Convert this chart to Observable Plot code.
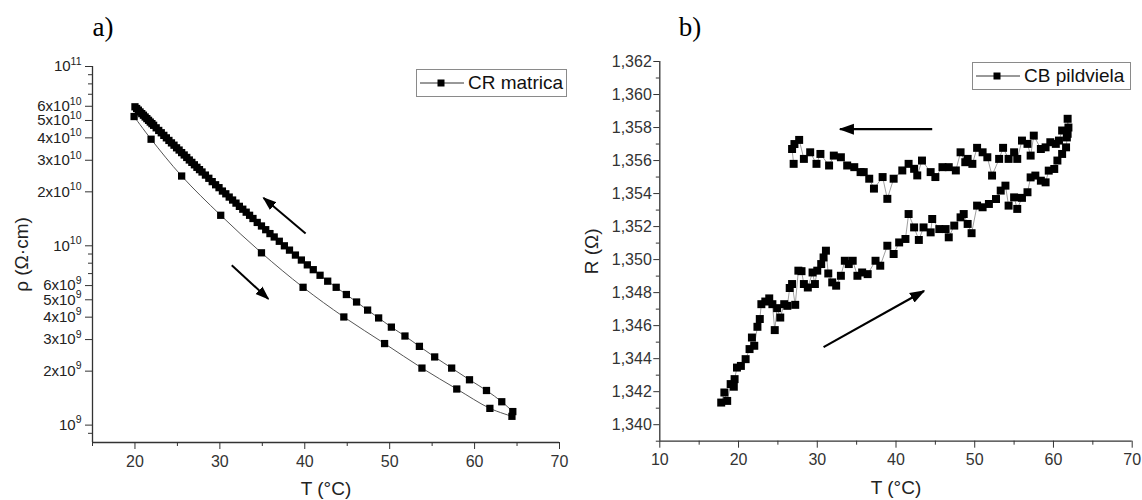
<!DOCTYPE html>
<html><head><meta charset="utf-8">
<script src="https://cdn.jsdelivr.net/npm/d3@7"></script>
<script src="https://cdn.jsdelivr.net/npm/@observablehq/plot@0.6"></script>
<style>
body{margin:0;background:#fff;}
#wrap{position:relative;width:1142px;height:500px;font-family:"Liberation Sans",Arial,sans-serif;background:#fff;overflow:hidden;}
.panel{position:absolute;top:0;}
.legend{position:absolute;box-sizing:border-box;border:1px solid #8a8a8a;display:flex;align-items:center;font-size:19px;color:#111;background:#fff;}
.legend svg{flex:none;}
</style></head><body><div id="wrap"></div>
<script>
// ---------- Panel a) : CR matrica, resistivity vs temperature ----------
const coolT = [20.0,20.2,20.4,20.6,20.8,21.0,21.2,21.4,21.6,21.8,22.0,22.2,22.5,22.8,23.1,23.4,23.7,24.0,24.3,24.6,24.9,25.2,25.5,25.8,26.1,26.4,26.7,27.0,27.3,27.6,27.9,28.3,28.7,29.1,29.5,29.9,30.3,30.7,31.1,31.5,31.9,32.3,32.7,33.1,33.5,33.9,34.4,34.9,35.4,35.9,36.4,37.0,37.6,38.2,38.9,39.6,40.3,41.0,41.8,42.7,43.7,44.9,46.1,47.4,48.7,50.2,51.8,53.5,55.3,57.3,59.4,61.4,63.2,64.5];
const coolRho = [5.96e10,5.83e10,5.71e10,5.58e10,5.46e10,5.35e10,5.23e10,5.12e10,5.01e10,4.90e10,4.80e10,4.70e10,4.55e10,4.40e10,4.27e10,4.13e10,4.00e10,3.87e10,3.75e10,3.64e10,3.52e10,3.42e10,3.31e10,3.21e10,3.11e10,3.01e10,2.92e10,2.83e10,2.74e10,2.66e10,2.58e10,2.48e10,2.38e10,2.28e10,2.19e10,2.11e10,2.02e10,1.95e10,1.87e10,1.80e10,1.73e10,1.66e10,1.60e10,1.54e10,1.48e10,1.42e10,1.35e10,1.29e10,1.23e10,1.17e10,1.12e10,1.06e10,1.00e10,9.46e9,8.88e9,8.33e9,7.83e9,7.36e9,6.85e9,6.35e9,5.87e9,5.35e9,4.86e9,4.38e9,3.96e9,3.52e9,3.14e9,2.75e9,2.40e9,2.08e9,1.79e9,1.56e9,1.35e9,1.19e9];
const heatT = [19.9,21.9,25.5,30.1,34.9,39.8,44.6,49.4,53.8,57.9,61.8,64.4];
const heatRho = [5.26e10,3.93e10,2.45e10,1.48e10,9.14e9,5.87e9,4.01e9,2.85e9,2.08e9,1.59e9,1.24e9,1.12e9];
const arrowsA = [
  {x1:40.1, y1:1.17e10, x2:35.15, y2:1.85e10},
  {x1:31.4, y1:7.8e9,  x2:35.7,  y2:5.06e9}
];
const xDomainA = [15, 70];
const yDomainA = [8e8, 1e11];
const xMajorA = [20, 30, 40, 50, 60, 70];
const xMinorA = [15, 25, 35, 45, 55, 65];
const yMajorA = [1e9, 2e9, 3e9, 4e9, 5e9, 6e9, 1e10, 2e10, 3e10, 4e10, 5e10, 6e10, 1e11];
const yMinorA = [9e8, 7e9, 8e9, 9e9, 7e10, 8e10, 9e10];
const titleA = "a)";
const xLabelA = "T (°C)";
const yLabelA = "ρ (Ω·cm)";
const legendA = "CR matrica";

// ---------- Panel b) : CB pildviela, resistance vs temperature ----------
const heatT2 = [17.8,18.2,18.56,19.0,19.4,19.5,19.8,20.3,20.9,21.4,21.7,22.0,22.4,22.7,22.9,23.4,23.9,24.3,24.6,24.9,25.3,25.8,26.2,26.5,26.8,27.2,27.6,28.0,28.3,28.8,29.4,29.7,30.0,30.5,30.8,31.1,31.4,31.9,32.4,33.0,33.5,34.0,34.5,35.1,35.7,36.4,37.4,38.0,38.9,39.7,40.4,41.2,41.6,42.3,42.9,43.5,44.4,44.6,45.5,46.3,46.7,47.4,48.2,48.6,49.1,49.6,50.3,51.0,51.8,52.7,53.3,53.9,54.3,55.0,55.4,56.0,56.7,57.1,57.7,58.4,59.0,59.4,60.1,60.5,61.1,61.6,61.8,61.8];
const heatR2 = [1.34134,1.34195,1.34144,1.34246,1.34230,1.34276,1.34346,1.34356,1.34397,1.34458,1.34528,1.34478,1.34593,1.34640,1.34730,1.34746,1.34765,1.34730,1.34573,1.34706,1.34649,1.34730,1.34720,1.34828,1.34852,1.34726,1.34933,1.34930,1.34852,1.34831,1.34922,1.34852,1.34933,1.34973,1.35013,1.35054,1.34916,1.34862,1.34842,1.34902,1.34993,1.34973,1.34993,1.34902,1.34922,1.34912,1.34993,1.34963,1.35084,1.35034,1.35104,1.35125,1.35276,1.35195,1.35119,1.35195,1.35165,1.35246,1.35185,1.35185,1.35135,1.35206,1.35256,1.35276,1.35216,1.35160,1.35327,1.35317,1.35337,1.35367,1.35418,1.35448,1.35327,1.35377,1.35307,1.35374,1.35408,1.35498,1.35509,1.35478,1.35468,1.35539,1.35549,1.35600,1.35640,1.35680,1.35762,1.35853];
const coolT2 = [61.9,61.7,61.1,60.7,60.3,59.6,59.0,58.4,57.5,57.1,56.7,56.0,55.4,55.0,54.3,53.6,53.1,52.2,51.6,51.0,50.3,49.7,49.1,48.8,48.2,47.6,46.7,45.9,45.0,44.4,43.3,42.7,42.3,41.6,40.8,39.7,38.9,38.3,37.2,36.6,35.9,35.5,34.7,33.8,33.0,32.1,31.5,30.4,29.9,29.1,28.3,27.7,27.1,26.8,27.0];
const coolR2 = [1.35800,1.35740,1.35782,1.35721,1.35701,1.35711,1.35680,1.35670,1.35751,1.35630,1.35701,1.35721,1.35610,1.35650,1.35610,1.35677,1.35610,1.35509,1.35620,1.35650,1.35677,1.35580,1.35610,1.35590,1.35650,1.35540,1.35560,1.35560,1.35500,1.35530,1.35600,1.35510,1.35550,1.35580,1.35540,1.35490,1.35368,1.35500,1.35430,1.35490,1.35530,1.35530,1.35560,1.35570,1.35620,1.35630,1.35570,1.35640,1.35580,1.35650,1.35610,1.35725,1.35700,1.35670,1.35580];
const arrowsB = [
  {x1:44.6, y1:1.3579, x2:32.9,  y2:1.3579},
  {x1:30.8, y1:1.3447, x2:43.55, y2:1.3481}
];
const xDomainB = [10, 70];
const yDomainB = [1.339, 1.362];
const xMajorB = [10, 20, 30, 40, 50, 60, 70];
const xMinorB = [15, 25, 35, 45, 55, 65];
const yMajorB = [1.340,1.342,1.344,1.346,1.348,1.350,1.352,1.354,1.356,1.358,1.360,1.362];
const yMinorB = [1.339,1.341,1.343,1.345,1.347,1.349,1.351,1.353,1.355,1.357,1.359,1.361];
const titleB = "b)";
const xLabelB = "T (°C)";
const yLabelB = "R (Ω)";
const legendB = "CB pildviela";

// ---------- helpers ----------
const font = '"Liberation Sans", Arial, sans-serif';
const serif = '"Liberation Serif", "Times New Roman", serif';
const axisColor = "#333";
const NS = "http://www.w3.org/2000/svg";

function filledArrow(color, context) {
  const doc = (context && context.document) || document;
  const m = doc.createElementNS(NS, "marker");
  m.setAttribute("viewBox", "-10 -5 10 10");
  m.setAttribute("markerWidth", 7);
  m.setAttribute("markerHeight", 7);
  m.setAttribute("refX", -1);
  m.setAttribute("refY", 0);
  m.setAttribute("orient", "auto");
  const p = doc.createElementNS(NS, "path");
  p.setAttribute("d", "M-10,-3.6L0,0L-10,3.6Z");
  p.setAttribute("fill", color);
  p.setAttribute("stroke", "none");
  m.appendChild(p);
  return m;
}

function sciFmt(d) {
  const e = Math.floor(Math.log10(d) + 1e-9);
  const m = Math.round(d / Math.pow(10, e));
  return m === 1 ? `10^${e}` : `${m}x10^${e}`;
}

function supLabels(svg) {
  svg.querySelectorAll("text").forEach(t => {
    const s = t.textContent;
    if (!s.includes("^")) return;
    const [base, exp] = s.split("^");
    t.textContent = "";
    const a = document.createElementNS(NS, "tspan"); a.textContent = base;
    const b = document.createElementNS(NS, "tspan"); b.textContent = exp;
    b.setAttribute("dy", "-6.5"); b.setAttribute("font-size", "10.5");
    t.append(a, b);
  });
}

function legendBox(parent, left, top, width, text) {
  const div = document.createElement("div");
  div.className = "legend";
  Object.assign(div.style, {left: left + "px", top: top + "px", width: width + "px", height: "28px"});
  div.innerHTML = `<svg width="50" height="26"><line x1="3" y1="13" x2="47" y2="13" stroke="#333" stroke-width="1"/><rect x="20.5" y="9.5" width="7" height="7" fill="#000"/></svg><span style="margin-left:1px">${text}</span>`;
  parent.appendChild(div);
}

const wrap = document.getElementById("wrap");

// ---------- Panel a ----------
const coolA = coolT.map((t, i) => ({T: t, v: coolRho[i]}));
const heatA = heatT.map((t, i) => ({T: t, v: heatRho[i]}));
const plotA = Plot.plot({
  width: 571, height: 500,
  marginLeft: 92, marginRight: 12, marginTop: 66, marginBottom: 58,
  style: {fontFamily: font, fontSize: "16px", color: "#222", background: "transparent", overflow: "visible"},
  x: {domain: xDomainA, label: null},
  y: {type: "log", domain: yDomainA, label: null},
  marks: [
    Plot.axisX({ticks: xMajorA, tickSize: 7, tickPadding: 6, tickFormat: d => String(d), label: null, color: axisColor, fontSize: 16}),
    Plot.axisX({ticks: xMinorA, tickSize: 4, tickFormat: () => "", label: null, color: axisColor}),
    Plot.axisY({ticks: yMajorA, tickSize: 7, tickFormat: () => "", label: null, color: axisColor}),
    Plot.axisY({ticks: yMinorA, tickSize: 4, tickFormat: () => "", label: null, color: axisColor}),
    Plot.text(yMajorA, {y: d => d, text: sciFmt, frameAnchor: "left", dx: -11, textAnchor: "end", lineAnchor: "middle", fontSize: 15, fill: "#222"}),
    Plot.ruleX([xDomainA[0]], {stroke: axisColor, strokeWidth: 1.3}),
    Plot.ruleY([yDomainA[0]], {stroke: axisColor, strokeWidth: 1.3}),
    Plot.line(coolA, {x: "T", y: "v", stroke: "#555", strokeWidth: 1, curve: "catmull-rom"}),
    Plot.line(heatA, {x: "T", y: "v", stroke: "#555", strokeWidth: 1, curve: "catmull-rom"}),
    Plot.dot(coolA.concat(heatA), {x: "T", y: "v", symbol: "square", r: 4.1, fill: "#000", stroke: "none"}),
    Plot.link(arrowsA, {x1: "x1", y1: "y1", x2: "x2", y2: "y2", stroke: "#000", strokeWidth: 2, markerEnd: filledArrow}),
    Plot.text([xLabelA], {text: d => d, frameAnchor: "bottom", dy: 46, textAnchor: "middle", lineAnchor: "middle", fontSize: 19, fill: "#222"}),
    Plot.text([yLabelA], {text: d => d, frameAnchor: "left", dx: -71, rotate: -90, textAnchor: "middle", lineAnchor: "middle", fontSize: 19, fill: "#222"}),
    Plot.text([titleA], {text: d => d, frameAnchor: "top-left", dy: -39, textAnchor: "start", lineAnchor: "middle", fontSize: 27, fontFamily: serif, fill: "#000"})
  ]
});
supLabels(plotA);
plotA.classList.add("panel");
plotA.style.left = "0px";
wrap.appendChild(plotA);

// ---------- Panel b ----------
const dataB = heatT2.map((t, i) => ({T: t, v: heatR2[i]}))
  .concat(coolT2.map((t, i) => ({T: t, v: coolR2[i]})));
const fmtB = d => d3.format(".3f")(d).replace(".", ",");
const plotB = Plot.plot({
  width: 571, height: 500,
  marginLeft: 88.3, marginRight: 10.3, marginTop: 61, marginBottom: 59.3,
  style: {fontFamily: font, fontSize: "16px", color: "#222", background: "transparent", overflow: "visible"},
  x: {domain: xDomainB, label: null},
  y: {domain: yDomainB, label: null},
  marks: [
    Plot.axisX({ticks: xMajorB, tickSize: 7, tickPadding: 5, tickFormat: d => String(d), label: null, color: axisColor, fontSize: 16}),
    Plot.axisX({ticks: xMinorB, tickSize: 4, tickFormat: () => "", label: null, color: axisColor}),
    Plot.axisY({ticks: yMajorB, tickSize: 6, tickPadding: 2, tickFormat: fmtB, label: null, color: axisColor, fontSize: 16}),
    Plot.axisY({ticks: yMinorB, tickSize: 3.5, tickFormat: () => "", label: null, color: axisColor}),
    Plot.ruleX([xDomainB[0]], {stroke: axisColor, strokeWidth: 1.3}),
    Plot.ruleY([yDomainB[0]], {stroke: axisColor, strokeWidth: 1.3}),
    Plot.line(dataB, {x: "T", y: "v", stroke: "#888", strokeWidth: 0.8}),
    Plot.dot(dataB, {x: "T", y: "v", symbol: "square", r: 4.5, fill: "#000", stroke: "none"}),
    Plot.link(arrowsB, {x1: "x1", y1: "y1", x2: "x2", y2: "y2", stroke: "#000", strokeWidth: 2.2, markerEnd: filledArrow}),
    Plot.text([xLabelB], {text: d => d, frameAnchor: "bottom", dy: 47, textAnchor: "middle", lineAnchor: "middle", fontSize: 19, fill: "#222"}),
    Plot.text([yLabelB], {text: d => d, frameAnchor: "left", dx: -68, rotate: -90, textAnchor: "middle", lineAnchor: "middle", fontSize: 19, fill: "#222"}),
    Plot.text([titleB], {text: d => d, frameAnchor: "top-left", dx: 19, dy: -34.3, textAnchor: "start", lineAnchor: "middle", fontSize: 27, fontFamily: serif, fill: "#000"})
  ]
});
plotB.classList.add("panel");
plotB.style.left = "571px";
wrap.appendChild(plotB);

legendBox(wrap, 416, 69, 151, legendA);
legendBox(wrap, 972, 62, 159, legendB);
</script></body></html>
